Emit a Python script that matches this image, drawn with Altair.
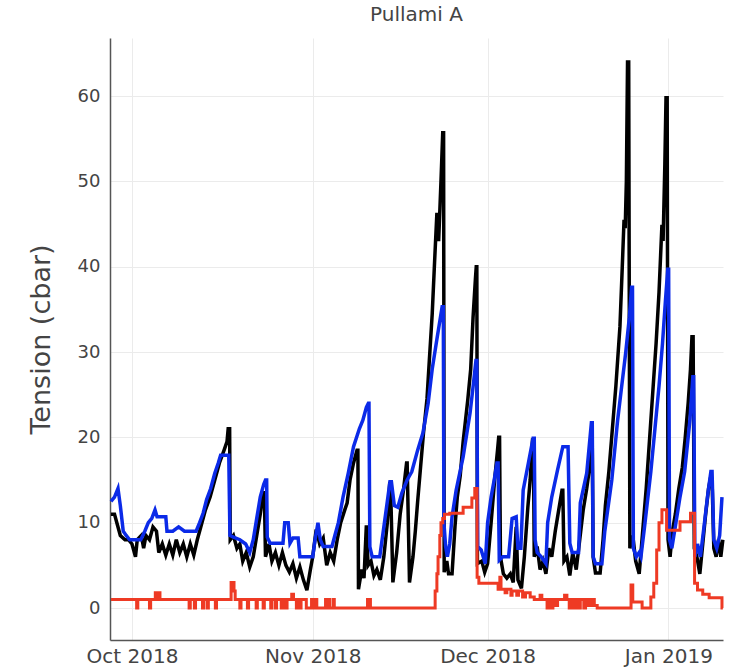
import altair as alt
import pandas as pd

# Day offsets are counted from 1 Oct 2018 (fractional days).
START = pd.Timestamp("2018-10-01")

black_day = [-3.6, -3.0, -2.6, -2.0, -1.2, -0.6, 0.0, 0.6, 0.9, 1.6, 2.0, 2.4, 3.0, 3.6, 4.2, 4.6,
             5.2, 5.8, 6.4, 7.0, 7.6, 8.2, 8.8, 9.4, 10.0, 10.6, 11.2, 11.8, 12.6, 13.4, 14.2, 15.0,
             15.8, 16.3, 16.5, 16.75, 16.85, 17.4, 18.0, 18.5, 19.0, 19.6, 20.2, 20.8, 21.4, 22.0,
             22.5, 22.7, 22.9, 23.5, 24.0, 24.6, 25.2, 25.8, 26.4, 27.0, 27.6, 28.2, 28.8, 29.4,
             30.0, 30.6, 31.0, 31.6, 32.2, 32.8, 33.4, 34.0, 34.6, 35.2, 35.8, 36.5, 36.9, 37.4,
             38.0, 38.6, 38.75, 38.85, 39.4, 39.8, 40.2, 40.5, 41.0, 41.5, 42.0, 42.6, 43.2, 43.8,
             44.2, 44.35, 44.75, 45.4, 46.0, 46.6, 47.1, 47.2, 47.6, 48.2, 48.6, 49.0, 49.5, 50.0,
             50.6, 51.0, 51.5, 51.9, 52.3, 52.6, 53.0, 53.3, 53.45, 53.55, 54.0, 54.3, 54.9, 55.4,
             55.8, 56.3, 56.8, 57.6, 58.1, 58.5, 58.9, 59.05, 59.15, 59.25, 60.0, 60.5, 61.0, 61.6,
             62.2, 62.7, 62.9, 63.05, 63.2, 63.7, 64.3, 64.9, 65.4, 65.9, 66.2, 66.8, 67.3, 67.9,
             68.3, 68.7, 68.85, 69.0, 69.5, 70.0, 70.5, 71.0, 71.5, 72.0, 72.6, 73.2, 73.76, 73.9,
             74.1, 74.6, 75.1, 75.6, 76.2, 76.8, 77.4, 78.0, 78.5, 78.8, 78.95, 79.1, 79.5, 80.3,
             80.8, 81.2, 81.8, 82.4, 83.0, 83.7, 84.1, 84.4, 84.6, 84.8, 85.0, 85.2, 85.4, 85.9,
             86.4, 87.0, 87.6, 88.2, 88.8, 89.4, 89.9, 90.4, 90.9, 91.1, 91.4, 91.6, 91.8, 91.95,
             92.3, 92.7, 93.2, 93.8, 94.4, 94.9, 95.4, 95.8, 96.05, 96.25, 96.45, 96.9, 97.4, 97.9,
             98.4, 98.9, 99.3, 99.5, 99.8, 100.2, 100.6, 101.0, 101.35]
black_val = [11, 11, 10, 8.5, 8, 8, 7.5, 6, 8, 8.5, 7, 8.5, 8, 9.5, 9, 6.5,
             7.5, 6.2, 7.5, 6.2, 8, 6.5, 7.5, 6, 7.5, 6.2, 8, 9.5, 11.5, 13, 15, 17,
             18.5, 19.5, 21, 21, 8, 8.5, 7, 7.5, 5.5, 6.5, 4.8, 6, 8.5, 11,
             13.5, 13.5, 6, 7.5, 5.5, 6.5, 5, 6.5, 5, 4.2, 5.2, 3.5, 4.8, 3.3,
             2.1, 4.5, 6, 9.2, 7.5, 8.2, 5, 6.5, 5.5, 8, 10, 11.5, 12.3, 15,
             17, 18.5, 18.5, 2.2, 4.5, 3.5, 9.7, 5, 5.5, 3.8, 4.5, 3.3, 6, 10,
             14.6, 14.6, 3, 6.5, 11, 14, 17, 17, 3, 6, 9, 12.5, 16.5, 20.5,
             24.5, 29, 34.5, 40.5, 46.3, 43, 50, 55.7, 55.7, 4.2, 5.5, 4, 4, 9.5,
             13, 15.5, 19.5, 24.4, 28, 34, 38.5, 40, 40, 5.2, 5.5, 4.2, 5.2, 10,
             15, 18.5, 20, 20, 6, 4, 3.5, 4, 3, 9.5, 3.3, 2.3, 6, 11.8,
             15, 19.7, 19.7, 6, 7.2, 4.5, 5.5, 4, 7, 6, 9, 11.5, 13.8, 13.8,
             5.5, 6, 3.8, 6.5, 4.5, 8, 11.5, 14, 16.5, 19, 19, 6, 4.1, 4.1,
             8, 12, 16, 21, 26, 33, 40, 45.5, 44.5, 50, 64, 64, 7, 8.5,
             5.5, 4, 9, 14, 20, 26, 31, 37, 44.9, 43, 52, 59.8, 59.8, 8,
             6, 9, 11, 14, 16.5, 20, 24, 28, 31.8, 31.8, 7, 6, 4, 7.5,
             11, 14, 15.5, 15, 7, 6, 8, 6, 8]

blue_day = [-3.6, -3.0, -2.4, -2.0, -1.5, -1.0, -0.4, 1.5, 2.2, 2.8, 3.4, 3.95, 4.3, 5.8, 6.0, 7.0,
            8.0, 9.0, 11.0, 11.6, 12.2, 12.8, 13.5, 14.2, 14.8, 15.2, 16.6, 16.8, 17.4, 18.5, 19.5,
            20.2, 20.8, 21.4, 22.0, 22.6, 22.9, 23.1, 23.2, 23.7, 25.9, 26.2, 26.8, 27.1, 27.6,
            28.5, 28.8, 31.0, 31.4, 31.9, 32.3, 32.8, 34.3, 34.8, 35.4, 36.2, 37.1, 38.0, 39.0,
            39.6, 40.2, 40.55, 40.65, 40.8, 41.2, 42.5, 43.2, 43.8, 44.25, 44.5, 45.0, 45.6, 46.3,
            47.2, 48.0, 49.0, 49.9, 50.8, 51.5, 52.3, 53.2, 53.4, 53.5, 53.8, 54.1, 54.5, 54.9,
            55.6, 56.8, 58.0, 58.6, 59.0, 59.15, 59.3, 59.9, 60.6, 61.0, 61.6, 62.2, 62.6, 62.8,
            63.0, 63.6, 64.6, 65.2, 65.9, 66.2, 66.7, 67.1, 68.0, 68.8, 69.0, 69.15, 69.5, 70.2,
            71.0, 71.3, 72.0, 73.0, 73.9, 74.8, 75.1, 75.5, 76.6, 76.9, 78.0, 78.8, 78.95, 79.1,
            79.5, 80.6, 81.1, 82.3, 83.3, 84.0, 84.7, 85.3, 85.7, 85.85, 86.0, 86.5, 87.0, 87.3,
            88.0, 89.0, 89.7, 90.4, 91.0, 91.5, 91.9, 92.05, 92.2, 92.6, 93.3, 94.0, 94.8, 95.7,
            96.2, 96.35, 96.55, 97.0, 97.5, 98.2, 98.8, 99.3, 99.5, 99.8, 100.3, 100.8, 101.2]
blue_val = [12.5, 13, 14, 12, 9, 8.5, 8, 8, 9, 10, 10.5, 11.5, 10.7, 10.7, 9, 9,
            9.5, 9, 9, 10, 11.1, 12.7, 14, 15.8, 17, 17.9, 17.9, 8.5, 8.3, 8, 7.5,
            6.5, 8, 10.5, 13, 14.5, 15, 15, 8.3, 7.6, 7.6, 10, 10, 7.6, 8.2,
            8.2, 6, 6, 8, 10, 8, 7.2, 7.2, 8.5, 10, 13, 15.8, 18.9, 21,
            22, 23.5, 24, 24, 7.2, 6, 6, 9.5, 12.5, 14.8, 14.8, 12, 11.8, 13.5,
            15, 16, 18.5, 20.5, 24, 28, 31.5, 35.3, 35.3, 10, 7.2, 6, 7.5, 10.7,
            13.8, 17.7, 22.9, 26.5, 29, 29, 7.2, 6.8, 5.2, 10, 13, 15.3, 17, 17,
            5.6, 6, 6, 10.5, 10.7, 7, 7, 13.8, 17, 19.9, 19.9, 8, 6.5, 6,
            5.2, 10, 13, 16.2, 18.9, 18.9, 7.6, 6.5, 6.5, 12.3, 15.8, 21.7, 21.7, 6,
            5.2, 5.2, 9, 15, 22, 26, 30, 34, 37.6, 37.6, 7, 6, 6.5, 6,
            10, 16, 21, 26, 31, 36, 39.7, 39.7, 8, 7, 10, 13, 16, 22,
            27.1, 27.1, 6, 7.5, 6, 10, 13.5, 16, 16, 8, 7, 8.5, 13]

red_day = [-3.6, 0.8, 1.0, 3.0, 3.2, 4.0, 4.3, 4.6, 4.8, 9.8, 10.0, 10.7, 10.9, 12.1, 12.3, 12.9,
           13.1, 14.3, 14.5, 17.0, 17.5, 17.7, 18.5, 18.7, 19.8, 20.0, 21.3, 21.5, 22.5, 22.7,
           23.8, 24.0, 24.6, 24.8, 25.6, 25.8, 26.3, 26.6, 27.4, 27.7, 28.2, 28.4, 28.8, 29.0,
           29.9, 30.8, 31.0, 31.5, 31.7, 33.2, 33.4, 33.7, 33.9, 34.5, 34.7, 40.4, 40.9, 51.6,
           52.0, 52.3, 52.5, 52.8, 53.0, 53.3, 53.6, 54.5, 56.8, 58.3, 58.8, 59.2, 59.5, 62.8,
           63.1, 63.3, 64.0, 64.3, 65.0, 65.2, 66.0, 66.3, 67.0, 67.5, 68.3, 69.0, 70.0, 70.3,
           71.2, 71.5, 71.8, 72.2, 72.5, 73.0, 74.2, 74.6, 75.0, 75.3, 75.8, 76.1, 76.6, 76.9,
           77.5, 77.8, 78.3, 78.8, 79.3, 79.8, 85.6, 85.9, 87.5, 89.0, 89.5, 90.0, 90.4, 90.9,
           91.7, 94.0, 95.8, 96.5, 97.0, 97.9, 99.0, 101.2, 101.35]
red_val = [1, 0, 1, 0, 1, 1.8, 1, 1.8, 1, 0, 1, 0, 1, 0, 1, 0,
           1, 0, 1, 3, 2, 1, 0, 1, 0, 1, 0, 1, 0, 1,
           0, 1, 0, 1, 0, 1, 0, 1, 1.6, 1, 0, 1, 0, 1,
           0, 1, 0, 1, 0, 1, 0, 1, 0, 1, 0, 1, 0, 0,
           2, 4, 6, 8.5, 10, 10.5, 11, 11.1, 11.8, 12.9, 14, 3.6, 2.9, 2.2,
           3.6, 2.2, 1.8, 2.2, 1.5, 2, 1.5, 2, 1.3, 1.8, 1.3, 1, 1.5, 1,
           0, 1, 0, 1, 0.3, 1, 1.5, 1, 0, 1, 0, 1, 0, 1,
           0, 1, 0.3, 1, 0.3, 0, 2.7, 0.7, 0, 1.3, 2.9, 6.8, 10, 11.5,
           9.1, 10.1, 11.1, 2.9, 2.1, 1.6, 1.2, 0, 0]

y_ticks = [0, 10, 20, 30, 40, 50, 60]
month_ticks = [(2018, 10), (2018, 11), (2018, 12), (2019, 1)]

FONT = "DejaVu Sans"
TEXT = "#444444"
GRID = "#ebebeb"


def frame(days, vals):
    return pd.DataFrame({
        "time": START + pd.to_timedelta(days, unit="D"),
        "tension": vals,
    })


x_enc = alt.X(
    "time:T",
    title=None,
    scale=alt.Scale(domain=[
        alt.DateTime(year=2018, month=9, date=27, hours=5, minutes=30),
        alt.DateTime(year=2019, month=1, date=10, hours=9),
    ]),
    axis=alt.Axis(
        values=[alt.DateTime(year=y, month=m, date=1) for y, m in month_ticks],
        format="%b %Y",
        ticks=False,
        labelPadding=6,
        labelFontSize=20,
        labelColor=TEXT,
        labelFont=FONT,
        grid=True,
        gridColor=GRID,
        domainColor="#555555",
        domainWidth=1.5,
    ),
)
y_enc = alt.Y(
    "tension:Q",
    title="Tension (cbar)",
    scale=alt.Scale(domain=[-3.75, 66.8], nice=False, zero=False),
    axis=alt.Axis(
        values=y_ticks,
        ticks=False,
        labelPadding=10,
        labelFontSize=18,
        labelColor=TEXT,
        labelFont=FONT,
        grid=True,
        gridColor=GRID,
        domainColor="#555555",
        domainWidth=1.5,
        titleFontSize=27,
        titleFontWeight="normal",
        titleColor=TEXT,
        titleFont=FONT,
        titleX=-69,
        titleBaseline="middle",
    ),
)

black = alt.Chart(frame(black_day, black_val)).mark_line(
    color="#000000", strokeWidth=3.5, strokeJoin="miter"
).encode(x=x_enc, y=y_enc)

blue = alt.Chart(frame(blue_day, blue_val)).mark_line(
    color="#0b2ae8", strokeWidth=3.5, strokeJoin="miter"
).encode(x=x_enc, y=y_enc)

red = alt.Chart(frame(red_day, red_val)).mark_line(
    color="#ee3a24", strokeWidth=3, interpolate="step-after"
).encode(x=x_enc, y=y_enc)

chart = alt.layer(black, blue, red).properties(
    width=613,
    height=602,
    title=alt.TitleParams(
        "Pullami A", fontSize=20, font=FONT, color=TEXT, fontWeight="normal",
        anchor="middle", offset=13,
    ),
    autosize=alt.AutoSizeParams(type="none"),
    padding={"left": 110, "top": 38, "right": 13, "bottom": 28},
).configure_view(stroke=None)

chart.save("out.html", embed_options={"renderer": "svg", "actions": False})
